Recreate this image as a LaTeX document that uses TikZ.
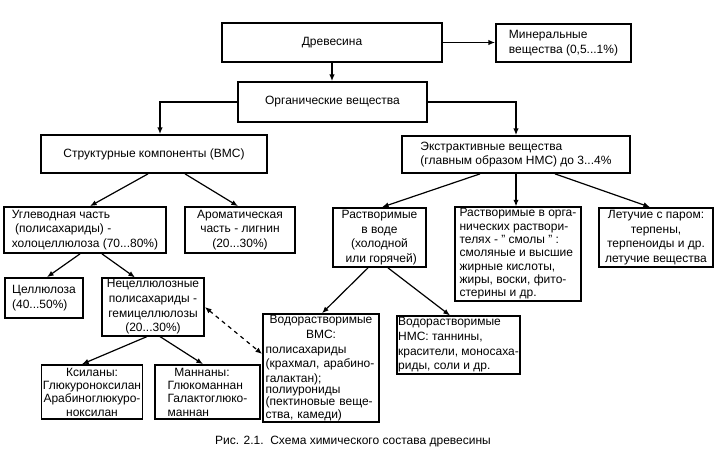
\documentclass[tikz,border=0pt]{standalone}
\usepackage{fontspec}
\setmainfont{Liberation Sans}
\usetikzlibrary{arrows.meta,calc}

\begin{document}
\begin{tikzpicture}[x=0.75pt,y=0.75pt,yscale=-1,xscale=1,
	box/.style 2 args={draw,line width=1.3pt,inner sep=1pt,minimum width=#1*0.75pt,minimum height=#2*0.75pt,font=\fontsize{9}{11}\selectfont},
	link/.style={line width=0.9pt,-{Latex[length=5pt,width=4pt]}},
	twolink/.style={line width=0.9pt,dashed,{Latex[length=5pt,width=4pt]}-{Latex[length=5pt,width=4pt]}}]
	\useasboundingbox (0,0) rectangle (718,454);
	
	% Top row
	\node (drev) at (332,42.5) [box={220}{39}] {Древесина};
	\node (miner) at (563.5,43) [box={135}{38},align=left] {Минеральные\\вещества (0,5...1\%)};
	\node (org) at (332.5,102) [box={189}{40}] {Органические вещества};
	
	% Second row
	\node (struct) at (154,154) [box={226}{38}] {Структурные компоненты (ВМС)};
	\node (extr) at (516,154.5) [box={228}{37},align=left] {Экстрактивные вещества\\(главным образом НМС) до 3...4\%};
	
	% Third row
	\node (ugl) at (85,230) [box={162}{46},align=left] {Углеводная часть\\\ (полисахариды) -\\холоцеллюлоза (70...80\%)};
	\node (arom) at (240,230) [box={110}{46},align=center] {Ароматическая\\часть - лигнин\\(20...30\%)};
	\node (vod) at (379.5,237.5) [box={93}{59},align=center] {Растворимые\\в воде\\(холодной\\\ или горячей)};
	\node (orgr) at (518,254) [box={126}{92},align=left,font=\fontsize{9}{10}\selectfont] {Растворимые в орга-\\нических раствори-\\телях - " смолы " :\\смоляные и высшие\\жирные кислоты,\\жиры, воски, фито-\\стерины и др.};
	\node (let) at (656,237.5) [box={114}{59},align=center] {Летучие с паром:\\терпены,\\терпеноиды и др.\\летучие вещества};
	
	% Fourth row
	\node (cell) at (44,298) [box={78}{40},align=left] {Целлюлоза\\(40...50\%)};
	\node (necell) at (153,307) [box={102}{56},align=center] {Нецеллюлозные\\полисахариды -\\гемицеллюлозы\\(20...30\%)};
	\node (vms) at (321,368) [box={116}{102},text width=83pt] {\centering Водорастворимые\\ВМС:\par\raggedright полисахариды\\(крахмал, арабино-\\галактан);\par\fontsize{9}{8}\selectfont полиурониды\\(пектиновые веще-\\ства, камеди)\par};
	\node (nms) at (458.5,345) [box={121}{56},align=left] {Водорастворимые\\НМС: таннины,\\красители, моносаха-\\риды, соли и др.};
	
	% Bottom row
	\node (ksil) at (92,392) [box={100}{54},align=center,font=\fontsize{9}{10}\selectfont] {Ксиланы:\\Глюкуроноксилан\\Арабиноглюкуро-\\ноксилан};
	\node (mann) at (207.5,392) [box={105}{54},align=left,font=\fontsize{9}{10}\selectfont] {\ \ Маннаны:\\Глюкоманнан\\Галактоглюко-\\маннан};
	
	% Caption
	\node (cap) at (353,442) [font=\fontsize{9}{11}\selectfont] {Рис. 2.1.\ \ Схема химического состава древесины};
	
	% Connectors
	\draw [link] (drev.east) -- (drev.east -| miner.west);
	\draw [link] (drev.south) -- (drev.south |- org.north);
	\draw [link] (org.west) -| ($(struct.north)+(6,0)$);
	\draw [link] (org.east) -| (extr.north);
	\draw [link] ($(struct.south)+(-6,0)$) -- ($(ugl.north)+(5,0)$);
	\draw [link] ($(struct.south)+(31,0)$) -- ($(arom.north)+(-2,0)$);
	\draw [link] ($(extr.south)+(-36,0)$) -- ($(vod.north)+(2.5,0)$);
	\draw [link] (extr.south) -- (extr.south |- orgr.north);
	\draw [link] ($(extr.south)+(39,0)$) -- ($(let.north)+(-6,0)$);
	\draw [link] ($(ugl.south)+(-5,0)$) -- ($(cell.north)+(3,0)$);
	\draw [link] ($(ugl.south)+(17,0)$) -- ($(necell.north)+(-18,0)$);
	\draw [link] ($(necell.south)+(-6,0)$) -- ($(ksil.north)+(-10,0)$);
	\draw [link] ($(necell.south)+(7,0)$) -- ($(mann.north)+(-4.5,0)$);
	\draw [link] ($(vod.south)+(-11.5,0)$) -- ($(vms.north)+(1,0)$);
	\draw [link] ($(vod.south)+(8.5,0)$) -- ($(nms.north)+(-8.5,0)$);
	\draw [twolink] (necell.east) -- ($(vms.west)+(0,-14)$);
	
\end{tikzpicture}
\end{document}
